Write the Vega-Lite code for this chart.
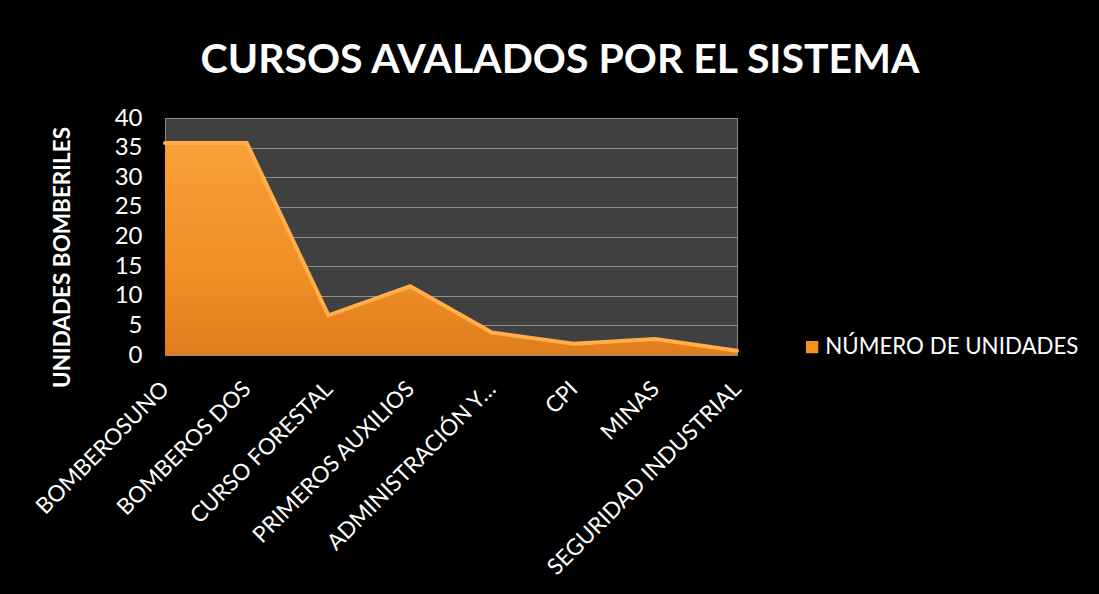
{
  "$schema": "https://vega.github.io/schema/vega-lite/v6.json",
  "autosize": {"type": "none"},
  "width": 572,
  "height": 237,
  "padding": {"left": 165, "top": 118, "right": 362, "bottom": 239},
  "background": "#000000",
  "title": {
    "text": "CURSOS AVALADOS POR EL SISTEMA",
    "font": "Lato",
    "fontSize": 41,
    "fontWeight": "bold",
    "color": "#ffffff",
    "anchor": "middle",
    "baseline": "alphabetic",
    "offset": 46,
    "dx": 109,
    "dy": 54
  },
  "data": {
    "values": [
      {"curso": "BOMBEROSUNO", "unidades": 35.8},
      {"curso": "BOMBEROS DOS", "unidades": 35.8},
      {"curso": "CURSO FORESTAL", "unidades": 6.7},
      {"curso": "PRIMEROS AUXILIOS", "unidades": 11.6},
      {"curso": "ADMINISTRACIÓN Y…", "unidades": 3.8},
      {"curso": "CPI", "unidades": 1.9},
      {"curso": "MINAS", "unidades": 2.7},
      {"curso": "SEGURIDAD INDUSTRIAL", "unidades": 0.7}
    ]
  },
  "encoding": {
    "x": {
      "field": "curso",
      "type": "nominal",
      "sort": null,
      "scale": {"type": "point", "padding": 0},
      "axis": {
        "title": null,
        "labelAngle": -45,
        "labelAlign": "right",
        "labelBaseline": "middle",
        "labelFont": "Lato",
        "labelFontSize": 22.5,
        "labelColor": "#ffffff",
        "labelPadding": 30,
        "ticks": false,
        "domain": false,
        "grid": false,
        "labelLimit": 400
      }
    },
    "y": {
      "field": "unidades",
      "type": "quantitative",
      "scale": {"domain": [0, 40]},
      "axis": {
        "title": "UNIDADES BOMBERILES",
        "titleFont": "Lato",
        "titleFontSize": 22.5,
        "titleFontWeight": "bold",
        "titleColor": "#ffffff",
        "titleX": -103,
        "titleY": 139,
        "titleAngle": -90,
        "titleBaseline": "middle",
        "titleAlign": "center",
        "values": [0, 5, 10, 15, 20, 25, 30, 35, 40],
        "labelFont": "Lato",
        "labelFontSize": 24,
        "labelColor": "#ffffff",
        "labelPadding": 23,
        "ticks": false,
        "domain": false,
        "grid": true,
        "gridColor": "#8f8f8f",
        "gridWidth": 1
      }
    }
  },
  "layer": [
    {
      "mark": {
        "type": "area",
        "interpolate": "linear",
        "color": {
          "gradient": "linear",
          "x1": 0, "y1": 0, "x2": 0, "y2": 1,
          "stops": [
            {"offset": 0, "color": "#f7a038"},
            {"offset": 0.6, "color": "#f08f25"},
            {"offset": 1, "color": "#df7d1c"}
          ]
        }
      }
    },
    {
      "mark": {"type": "line", "interpolate": "linear", "strokeWidth": 4, "strokeCap": "round"},
      "encoding": {
        "stroke": {
          "datum": "NÚMERO DE UNIDADES",
          "scale": {"range": ["#ffae4a"]},
          "legend": {
            "title": null,
            "orient": "none",
            "legendX": 636,
            "legendY": 218,
            "symbolType": "square",
            "symbolSize": 150,
            "labelFont": "Lato",
            "labelFontSize": 22.3,
            "labelColor": "#ffffff",
            "labelOffset": 2,
            "labelLimit": 400,
            "encode": {
              "symbols": {"update": {"fill": {"value": "#f0901f"}, "strokeWidth": {"value": 0}}}
            }
          }
        }
      }
    }
  ],
  "config": {
    "view": {"fill": "#404040", "stroke": "#8f8f8f", "strokeWidth": 1}
  }
}
